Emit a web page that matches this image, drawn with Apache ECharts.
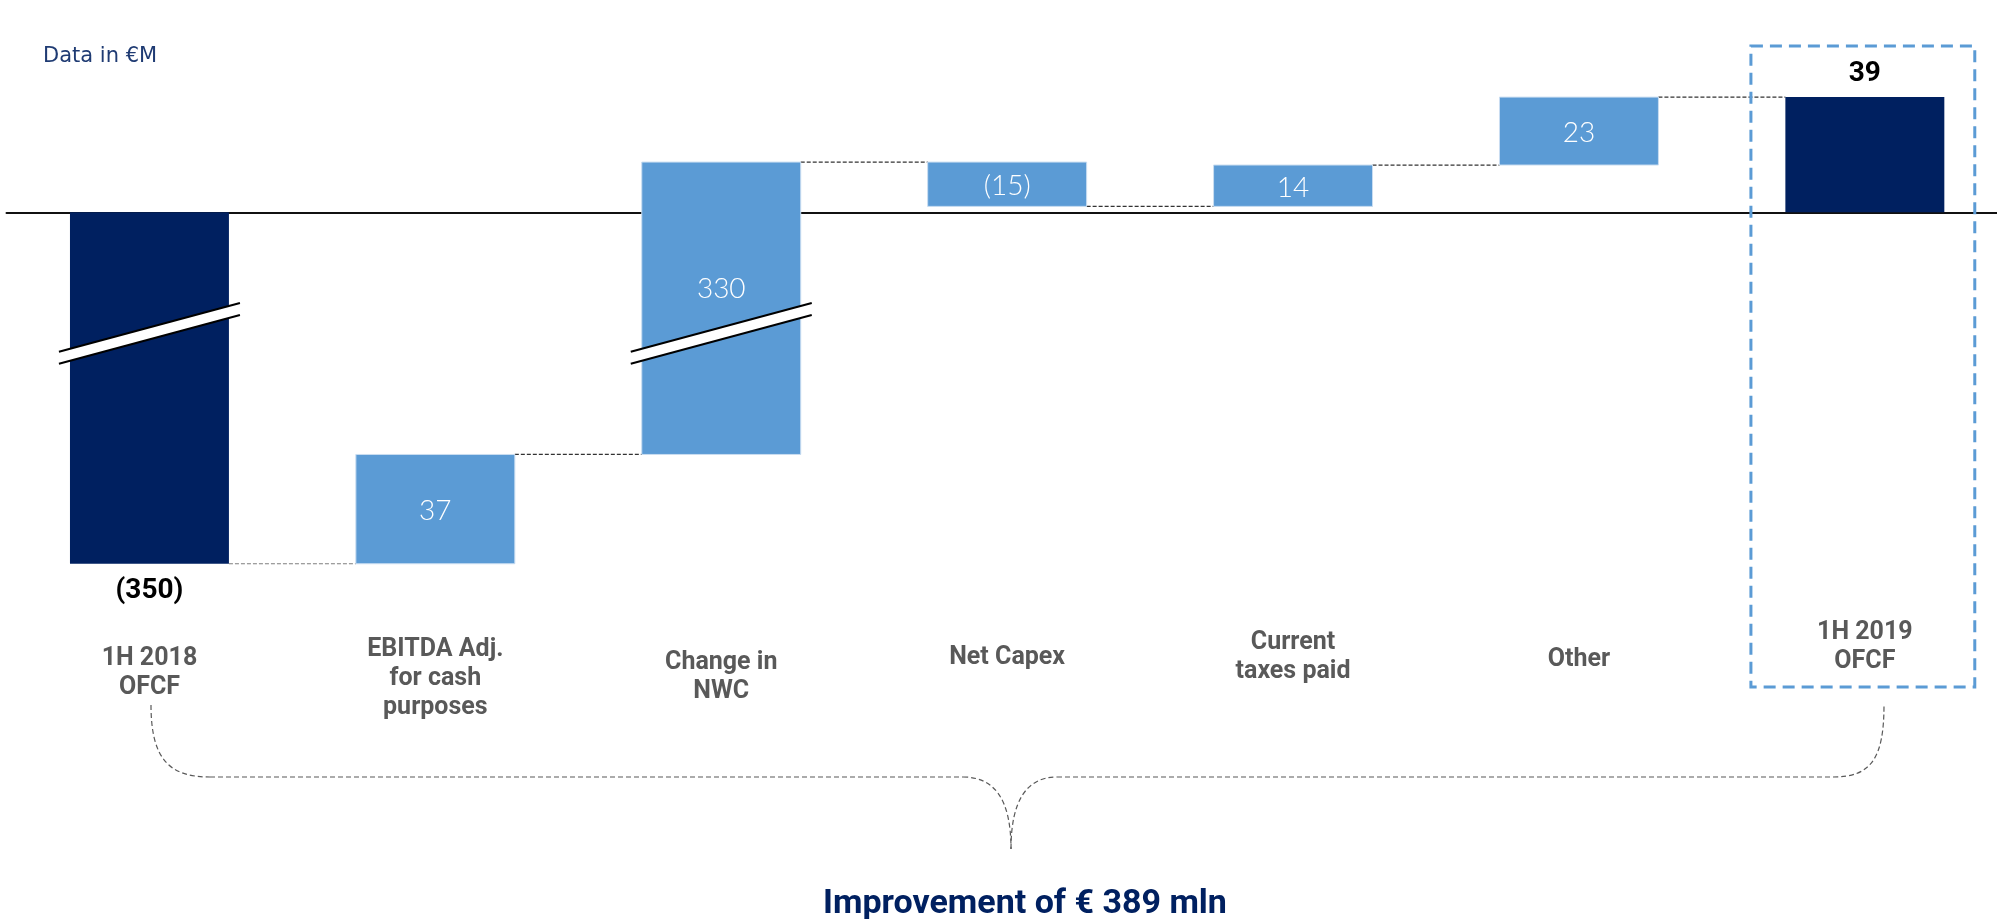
<!DOCTYPE html>
<html>
<head>
<meta charset="utf-8">
<title>OFCF bridge</title>
<script src="https://cdn.jsdelivr.net/npm/echarts@6.0.0/dist/echarts.min.js"></script>
<style>
  html, body { margin: 0; padding: 0; background: #fff; }
  #chart { width: 1997px; height: 919px; }
</style>
</head>
<body>
<div id="chart"></div>
<script>
// data
var categories = ['1H 2018\nOFCF', 'EBITDA Adj.\nfor cash\npurposes', 'Change in\nNWC', 'Net Capex', 'Current\ntaxes paid', 'Other', '1H 2019\nOFCF'];
var changes = [-350, 37, 330, -15, 14, 23, 39];
var isTotal = [true, false, false, false, false, false, true];
var hiddenRange = [-272, -41];   // part of the value scale that is cut out of the drawing
var brokenBars = [0, 2];         // bars that carry the break mark
var footnote = 'Improvement of € 389 mln';

// layout
var labelMidY = [673, 679, 677, 658, 657, 660, 647];  // centre of each category label block
var innerLabelShift = [0, 0, -21, 0, 0, 0, 0];
var NAVY = '#002060', LIGHT = '#5b9bd5', GREY = '#595959';
var BAR_RATIO = 0.556;

// squeeze out the hidden part of the scale (broken axis)
var cut = hiddenRange[1] - hiddenRange[0];
function shown(v) {
  if (v <= hiddenRange[0]) return v + cut;
  if (v < hiddenRange[1]) return hiddenRange[1];
  return v;
}

// floating bars [index, from, to] in shown units
var bars = [];
var running = 0;
for (var i = 0; i < changes.length; i++) {
  var from = isTotal[i] ? 0 : running;
  var to = isTotal[i] ? changes[i] : running + changes[i];
  running = to;
  bars.push([i, shown(from), shown(to)]);
}
// connector level between bar i and i+1
var links = [];
for (var i = 0; i < bars.length - 1; i++) {
  links.push([i, bars[i][2]]);
}

function fmt(v) {
  return v < 0 ? '(' + Math.abs(v) + ')' : String(v);
}

var braceStyle = { fill: null, stroke: GREY, lineWidth: 1.2, lineDash: [5, 3] };
function curve(x1, y1, c1x, c1y, c2x, c2y, x2, y2) {
  return { type: 'bezierCurve', shape: { x1: x1, y1: y1, cpx1: c1x, cpy1: c1y, cpx2: c2x, cpy2: c2y, x2: x2, y2: y2 }, style: braceStyle };
}
function seg(x1, y1, x2, y2) {
  return { type: 'line', shape: { x1: x1, y1: y1, x2: x2, y2: y2 }, style: braceStyle };
}

var chart = echarts.init(document.getElementById('chart'));

var option = {
  animation: false,
  backgroundColor: '#fff',
  grid: { left: 6.5, right: -10.8, top: 35.1, bottom: 207.6, outerBoundsMode: 'none' },
  xAxis: {
    type: 'category',
    data: categories,
    axisLine: { show: true, onZero: true, lineStyle: { color: '#111', width: 2 } },
    axisTick: { show: false },
    axisLabel: { show: false },
    splitLine: { show: false }
  },
  yAxis: {
    type: 'value',
    min: shown(-400),
    max: 60,
    axisLine: { show: false },
    axisTick: { show: false },
    axisLabel: { show: false },
    splitLine: { show: false }
  },
  graphic: [
    {
      type: 'text', x: 43, y: 46,
      style: { text: 'Data in €M', fill: '#1f3b73', font: '21px "DejaVu Sans"' }
    },
    {
      type: 'group',
      children: [
        curve(151, 705, 151, 760, 170, 777, 210, 777),
        seg(210, 777, 963, 777),
        curve(963, 777, 995, 777, 1011, 800, 1011, 849),
        curve(1011, 849, 1011, 800, 1027, 777, 1057, 777),
        seg(1057, 777, 1833, 777),
        curve(1833, 777, 1870, 777, 1884, 760, 1884, 705)
      ]
    },
    {
      type: 'text', x: 1025, y: 904,
      style: { text: footnote, fill: NAVY, font: 'bold 34px Roboto', align: 'center', verticalAlign: 'middle' }
    }
  ],
  series: [
    {
      // dashed connectors
      type: 'custom',
      z: 1,
      data: links,
      renderItem: function (params, api) {
        var i = api.value(0);
        var lvl = api.value(1);
        var bw = api.size([1, 0])[0] * BAR_RATIO;
        var a = api.coord([i, lvl]);
        var b = api.coord([i + 1, lvl]);
        return {
          type: 'line',
          shape: { x1: a[0] + bw / 2, y1: a[1], x2: b[0] - bw / 2, y2: b[1] },
          style: { stroke: i === 0 ? '#7f7f7f' : '#333', lineWidth: 1.2, lineDash: [4, 2] }
        };
      }
    },
    {
      // bars with value labels
      type: 'custom',
      z: 3,
      data: bars,
      encode: { x: 0, y: [1, 2] },
      renderItem: function (params, api) {
        var i = api.value(0);
        var p0 = api.coord([i, api.value(1)]);
        var p1 = api.coord([i, api.value(2)]);
        var bw = api.size([1, 0])[0] * BAR_RATIO;
        var top = Math.min(p0[1], p1[1]);
        var h = Math.abs(p1[1] - p0[1]);
        var total = isTotal[i];
        var children = [{
          type: 'rect',
          shape: { x: p0[0] - bw / 2, y: top, width: bw, height: h },
          style: total ? { fill: NAVY } : { fill: LIGHT, stroke: '#c9ddf1', lineWidth: 1 }
        }];
        var txt;
        if (total) {
          var neg = changes[i] < 0;
          txt = {
            type: 'text',
            x: p0[0],
            y: neg ? top + h + 27 : top - 23,
            style: { text: fmt(changes[i]), fill: '#000', font: 'bold 28px Roboto', align: 'center', verticalAlign: 'middle' }
          };
        } else {
          txt = {
            type: 'text',
            x: p0[0],
            y: top + h / 2 + innerLabelShift[i] + 2,
            style: { text: fmt(changes[i]), fill: '#fff', font: '300 28px Lato', align: 'center', verticalAlign: 'middle' }
          };
        }
        children.push(txt);
        return { type: 'group', children: children };
      }
    },
    {
      // break marks
      type: 'custom',
      z: 4,
      data: brokenBars.map(function (i) { return [i, hiddenRange[1]]; }),
      renderItem: function (params, api) {
        var c = api.coord([api.value(0), api.value(1)]);
        var dx = 90.5, dy = 24.4, g = 6;
        return {
          type: 'group',
          children: [
            {
              type: 'polygon',
              shape: { points: [[c[0] - dx, c[1] + dy - g], [c[0] + dx, c[1] - dy - g], [c[0] + dx, c[1] - dy + g], [c[0] - dx, c[1] + dy + g]] },
              style: { fill: '#fff' }
            },
            { type: 'line', shape: { x1: c[0] - dx, y1: c[1] + dy - g, x2: c[0] + dx, y2: c[1] - dy - g }, style: { stroke: '#000', lineWidth: 2 } },
            { type: 'line', shape: { x1: c[0] - dx, y1: c[1] + dy + g, x2: c[0] + dx, y2: c[1] - dy + g }, style: { stroke: '#000', lineWidth: 2 } }
          ]
        };
      }
    },
    {
      // category labels
      type: 'custom',
      z: 2,
      data: categories.map(function (c, i) { return [i, 0]; }),
      renderItem: function (params, api) {
        var i = api.value(0);
        var p = api.coord([i, 0]);
        return {
          type: 'text',
          x: p[0],
          y: labelMidY[i],
          style: {
            text: categories[i], fill: GREY, font: 'bold 25px Roboto', lineHeight: 29,
            align: 'center', verticalAlign: 'middle'
          }
        };
      }
    },
    {
      // highlight box round the closing bar
      type: 'custom',
      z: 2,
      data: [[6, 0]],
      renderItem: function (params, api) {
        var p = api.coord([api.value(0), 0]);
        var w = api.size([1, 0])[0] * 0.783;
        return {
          type: 'rect',
          shape: { x: p[0] - 2 - w / 2, y: 46, width: w, height: 641 },
          style: { fill: null, stroke: LIGHT, lineWidth: 3, lineDash: [12, 7] }
        };
      }
    }
  ]
};

chart.setOption(option);
</script>
</body>
</html>
